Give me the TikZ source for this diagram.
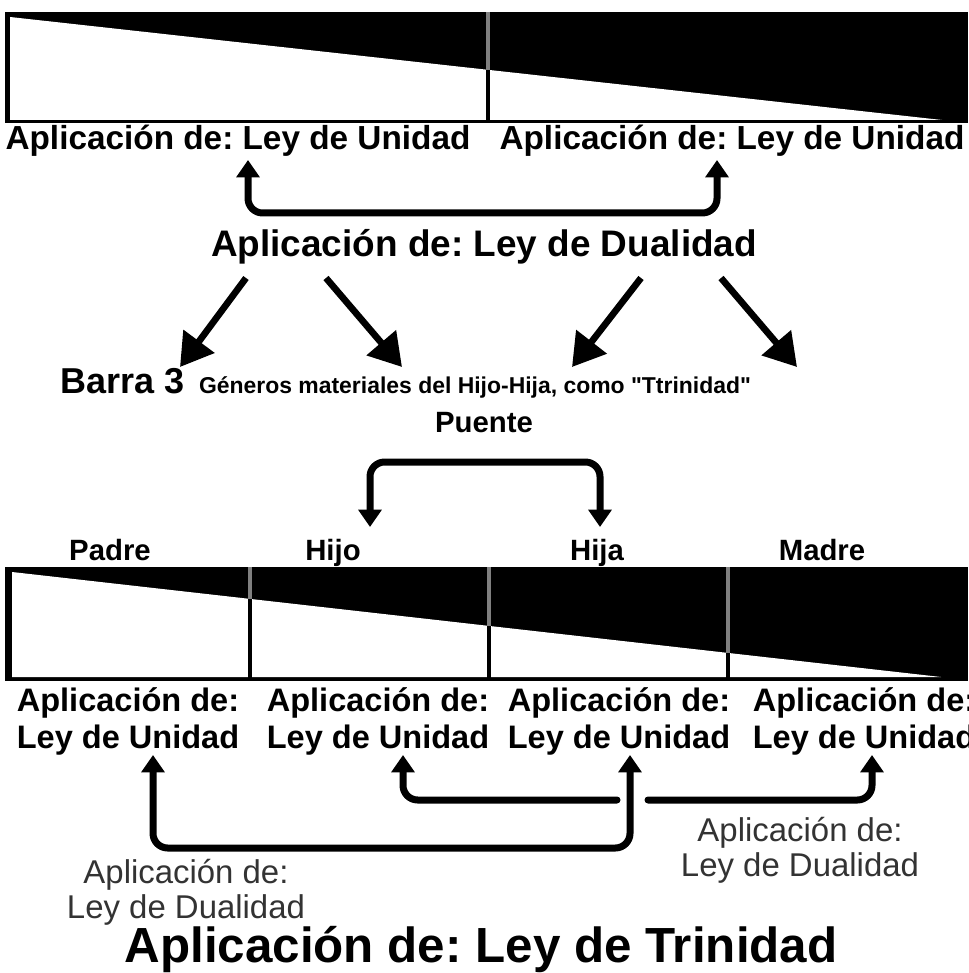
\documentclass[tikz,border=0pt]{standalone}
\usepackage{fontspec}
\setmainfont{Liberation Sans}
\usetikzlibrary{arrows.meta}
\frenchspacing
\tikzset{
  conn/.style={line width=5.25pt, rounded corners=11pt},
  diagarrow/.style={line width=5pt, -{Triangle[width=28pt,length=24pt]}},
  txtbase/.style={inner sep=0pt, anchor=base},
  unid/.style={txtbase, font=\bfseries\fontsize{25}{30}\selectfont},
  titlemid/.style={txtbase, font=\bfseries\fontsize{27.7}{32}\selectfont},
  titlebig/.style={txtbase, font=\bfseries\fontsize{37}{42}\selectfont},
  nametxt/.style={txtbase, font=\bfseries\fontsize{22}{26}\selectfont},
  twoline/.style={txtbase, font=\bfseries\fontsize{24.4}{27.75}\selectfont, align=center},
  dualtxt/.style={txtbase, font=\fontsize{24.7}{26}\selectfont, align=center, text=black!80},
  divg/.style={line width=3pt, black!50},
  divb/.style={line width=3.5pt, black}
}
\begin{document}
\begin{tikzpicture}[x=0.75pt,y=-0.75pt]
\useasboundingbox[fill=white] (0,0) rectangle (968,973);

% ---------- top bar ----------
\fill[black] (5,12) rectangle (968,123);
\fill[white] (10,17) -- (942,120) -- (10,120) -- cycle;
\draw[divg] (488,12) -- (488,70);
\draw[divb] (488,70) -- (488,123);

\node[unid] (u1) at (238,150) {Aplicación de: Ley de Unidad};
\node[unid] (u2) at (732,150) {Aplicación de: Ley de Unidad};

\coordinate (tl) at (248,160);
\coordinate (tr) at (717,160);
\draw[conn, {Triangle[width=17pt,length=13pt]}-{Triangle[width=17pt,length=13pt]}] (tl) -- (248,213) -| (tr);

\node[titlemid] (dual) at (484,257) {Aplicación de: Ley de Dualidad};

% ---------- diagonal arrows ----------
\coordinate (d1s) at (246,278); \coordinate (d1e) at (180,367);
\coordinate (d2s) at (326,278); \coordinate (d2e) at (402,367);
\coordinate (d3s) at (641,278); \coordinate (d3e) at (572,367);
\coordinate (d4s) at (721,278); \coordinate (d4e) at (797,367);
\draw[diagarrow] (d1s) -- (d1e);
\draw[diagarrow] (d2s) -- (d2e);
\draw[diagarrow] (d3s) -- (d3e);
\draw[diagarrow] (d4s) -- (d4e);

\node[txtbase, font=\bfseries\fontsize{27}{32}\selectfont] (barra) at (123,393) {Barra 3};
\node[txtbase, font=\bfseries\fontsize{17.2}{20}\selectfont] (gen) at (475,393) {Géneros materiales del Hijo-Hija, como \textquotedbl Ttrinidad\textquotedbl};
\node[nametxt] (puente) at (484,432) {Puente};

\coordinate (pl) at (370,527);
\coordinate (pr) at (600,527);
\draw[conn, {Triangle[width=17pt,length=13pt]}-{Triangle[width=17pt,length=13pt]}] (pl) -- (370,462) -| (pr);

\node[nametxt] (padre) at (110,560) {Padre};
\node[nametxt] (hijo) at (333,560) {Hijo};
\node[nametxt] (hija) at (597,560) {Hija};
\node[nametxt] (madre) at (822,560) {Madre};

% ---------- bottom bar ----------
\fill[black] (5,567) rectangle (968,681);
\fill[white] (12,572) -- (941,677) -- (12,677) -- cycle;
\draw[divg] (250,567) -- (250,599);
\draw[divb] (250,599) -- (250,681);
\draw[divg] (489,567) -- (489,626);
\draw[divb] (489,626) -- (489,681);
\draw[divg] (728,567) -- (728,653);
\draw[divb] (728,653) -- (728,681);

\node[twoline] (l1) at (128,748) {Aplicación de:\\Ley de Unidad};
\node[twoline] (l2) at (378,748) {Aplicación de:\\Ley de Unidad};
\node[twoline] (l3) at (619,748) {Aplicación de:\\Ley de Unidad};
\node[twoline] (l4) at (864,748) {Aplicación de:\\Ley de Unidad};

\coordinate (b1) at (153,755);
\coordinate (b2) at (403,755);
\coordinate (b3) at (630,755);
\coordinate (b4) at (872,755);
\coordinate (gl) at (617,800);
\coordinate (gr) at (648,800);
\draw[conn, {Triangle[width=17pt,length=13pt]}-{Triangle[width=17pt,length=13pt]}] (b1) -- (153,848) -| (b3);
\draw[conn, line cap=round, {Triangle[width=17pt,length=13pt]}-] (b2) |- (gl);
\draw[conn, line cap=round, -{Triangle[width=17pt,length=13pt]}] (gr) -| (b4);

\node[dualtxt] (dr) at (800,876) {Aplicación de:\\Ley de Dualidad};
\node[dualtxt] (dl) at (186,918) {Aplicación de:\\Ley de Dualidad};

\node[titlebig] (tri) at (481,962) {Aplicación de: Ley de Trinidad};
\end{tikzpicture}
\end{document}
